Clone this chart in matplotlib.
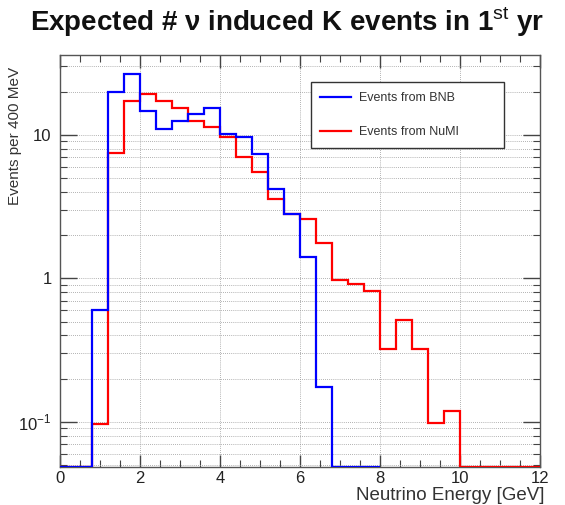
import numpy as np
import matplotlib
matplotlib.use("Agg")
import matplotlib.pyplot as plt
from matplotlib.patches import Rectangle
from matplotlib.ticker import FixedLocator, FixedFormatter, MultipleLocator, NullFormatter

plt.rcParams['font.family'] = ['Liberation Sans', 'DejaVu Sans']
plt.rcParams['mathtext.fontset'] = 'custom'
plt.rcParams['mathtext.rm'] = 'Liberation Sans'
plt.rcParams['mathtext.bf'] = 'Liberation Sans:bold'

# 400 MeV bins in neutrino energy (GeV)
bin_width = 0.4
bnb_edges = np.arange(0, 8.0 + 1e-9, bin_width)
numi_edges = np.arange(0, 12.0 + 1e-9, bin_width)

# Expected kaon-producing events per bin, first year
bnb_events = [0, 0, 0.60, 20.0, 26.7, 14.7, 10.9, 12.5, 14.0, 15.5,
              10.2, 9.6, 7.4, 4.2, 2.8, 1.42, 0.176, 0, 0, 0]
numi_events = [0, 0, 0.097, 7.5, 17.3, 19.2, 17.1, 15.4, 12.4, 11.4,
               9.6, 7.0, 5.5, 3.6, 2.8, 2.6, 1.77, 0.98, 0.92, 0.82,
               0.32, 0.51, 0.32, 0.098, 0.119, 0, 0, 0, 0, 0]

series_labels = ["Events from BNB", "Events from NuMI"]
x_ticks = [0, 2, 4, 6, 8, 10, 12]
y_major = [0.1, 1, 10]
y_major_labels = [r"$10^{-1}$", "1", "10"]

ymin, ymax = 0.0485, 36.0
xmin, xmax = 0, 12

W, H = 565, 505
AX_L, AX_R, AX_T, AX_B = 60, 540, 55, 467

fig = plt.figure(figsize=(W / 100, H / 100), dpi=100)
ax = fig.add_axes([AX_L / W, 1 - AX_B / H, (AX_R - AX_L) / W, (AX_B - AX_T) / H])
ax.set_yscale('log')
ax.set_xlim(xmin, xmax)
ax.set_ylim(ymin, ymax)


def px_to_axes(x, y):
    return (x - AX_L) / (AX_R - AX_L), (AX_B - y) / (AX_B - AX_T)


# empty bins sit on the lower edge of the log axis
numi_draw = np.maximum(np.array(numi_events, dtype=float), ymin)
bnb_draw = np.maximum(np.array(bnb_events, dtype=float), ymin)
h_numi = ax.stairs(numi_draw, numi_edges, baseline=None, color=(1, 0, 0), lw=1.6, zorder=3)
h_bnb = ax.stairs(bnb_draw, bnb_edges, baseline=None, color=(0, 0, 1), lw=1.6, zorder=4)

# ticks on all four sides, pointing inward
ax.xaxis.set_major_locator(FixedLocator(x_ticks))
ax.xaxis.set_minor_locator(MultipleLocator(0.5))
minor_y = [m * 10.0 ** e for e in (-2, -1, 0, 1) for m in range(2, 10)]
minor_y = [v for v in minor_y if ymin <= v <= ymax]
ax.yaxis.set_major_locator(FixedLocator(y_major))
ax.yaxis.set_major_formatter(FixedFormatter(y_major_labels))
ax.yaxis.set_minor_locator(FixedLocator(minor_y))
ax.yaxis.set_minor_formatter(NullFormatter())
ax.tick_params(which='both', direction='in', top=True, right=True, color='#444444')
ax.tick_params(which='major', length=9, width=1.0, labelsize=12)
ax.tick_params(which='minor', length=5, width=0.8)
ax.tick_params(axis='y', which='major', length=12, pad=6)
ax.tick_params(axis='x', which='major', pad=3)
for lab in ax.get_xticklabels() + ax.get_yticklabels():
    lab.set_color('#222222')

# dotted grid at x majors and every log decade subdivision
ax.grid(True, which='major', axis='x', ls=(0, (1, 1.5)), color='#999999', lw=0.6)
ax.grid(True, which='both', axis='y', ls=(0, (1, 1.5)), color='#999999', lw=0.6)
ax.set_axisbelow(True)
for s in ax.spines.values():
    s.set_color('#555555')
    s.set_linewidth(1.0)

# legend box with fixed extent
bx0, by0 = px_to_axes(311, 148)
bx1, by1 = px_to_axes(504, 82)
ax.add_patch(Rectangle((bx0, by0), bx1 - bx0, by1 - by0, transform=ax.transAxes,
                       facecolor='white', edgecolor='#333333', lw=1.0, zorder=5))
lx, ly = px_to_axes(320, 115)
leg = ax.legend([h_bnb, h_numi], series_labels, loc='center left',
                bbox_to_anchor=(lx, ly), fontsize=9, frameon=False,
                borderpad=0, labelspacing=1.75, handlelength=2.5, handletextpad=0.6,
                borderaxespad=0)
leg.set_zorder(6)
for t in leg.get_texts():
    t.set_color('#333333')

fig.text(287 / W, 1 - 22 / H,
         r"Expected # ν induced K events in 1$^{\rm st}$ yr",
         ha='center', va='center', fontsize=20, fontweight='bold', color='#111111')
fig.text(15 / W, 1 - 67 / H, "Events per 400 MeV", rotation=90,
         ha='center', va='top', fontsize=11, color='#333333')
fig.text(545 / W, 1 - 496 / H, "Neutrino Energy [GeV]",
         ha='right', va='center', fontsize=13.5, color='#333333')

fig.savefig("out.png", dpi=100)
